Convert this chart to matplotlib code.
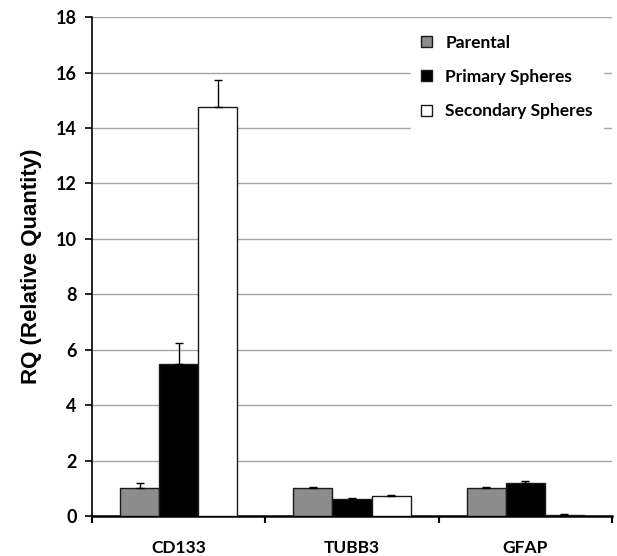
import matplotlib.pyplot as plt
import numpy as np

genes = ['CD133', 'TUBB3', 'GFAP']
series = ['Parental', 'Primary Spheres', 'Secondary Spheres']
parental = [1.0, 1.0, 1.0]
primary = [5.5, 0.62, 1.18]
secondary = [14.75, 0.73, 0.05]
parental_err = [0.2, 0.03, 0.06]
primary_err = [0.75, 0.03, 0.1]
secondary_err = [1.0, 0.03, 0.01]
colors = ['#8c8c8c', '#000000', '#ffffff']

lbl_font = 'Lato'

fig = plt.figure(figsize=(6.17, 5.56), dpi=100)
ax = fig.add_axes([0.149, 0.072, 0.843, 0.897])

x = np.arange(len(genes))
width = 0.225
values = [parental, primary, secondary]
errs = [parental_err, primary_err, secondary_err]
for i, (vals, err, col, name) in enumerate(zip(values, errs, colors, series)):
    pos = x + (i - 1) * width
    ax.bar(pos, vals, width, color=col, edgecolor='#1a1a1a', linewidth=1.0,
           label=name, zorder=3)
    ax.errorbar(pos, vals, yerr=[np.zeros(len(vals)), err], fmt='none',
                ecolor='black', elinewidth=1.0, capsize=3, capthick=1.0, zorder=4)

ax.set_xlim(-0.5, 2.5)
ax.set_ylim(0, 18)
ax.set_yticks(np.arange(0, 19, 2))
ax.yaxis.grid(True, color='#a6a6a6', linewidth=1.0, zorder=0)
ax.set_axisbelow(True)

ax.set_xticks(x)
ax.set_xticklabels(genes, fontfamily=lbl_font, fontweight='bold', fontsize=12.5)
ax.tick_params(axis='x', length=0, pad=17)
ax.set_xticks([-0.5, 0.5, 1.5, 2.5], minor=True)
ax.tick_params(axis='x', which='minor', length=5, width=1.5, direction='out')
ax.tick_params(axis='y', length=5, width=1.2, direction='out', pad=6)
for t in ax.get_yticklabels():
    t.set_fontfamily(lbl_font)
    t.set_fontweight('bold')
    t.set_fontsize(13)

for s in ['top', 'right']:
    ax.spines[s].set_visible(False)
ax.spines['left'].set_linewidth(1.2)
ax.spines['bottom'].set_linewidth(1.8)

ax.set_ylabel('RQ (Relative Quantity)', fontfamily='Liberation Sans',
              fontweight='bold', fontsize=16, labelpad=10)

leg = ax.legend(loc='upper right', bbox_to_anchor=(1.0, 1.003), frameon=True,
                fancybox=False, edgecolor='white', framealpha=1.0,
                prop={'family': lbl_font, 'weight': 'bold', 'size': 12.5},
                handlelength=0.6, handleheight=0.6, labelspacing=1.05,
                handletextpad=0.8, borderpad=0.6)
leg.set_zorder(5)

fig.savefig('out.png', dpi=100)
